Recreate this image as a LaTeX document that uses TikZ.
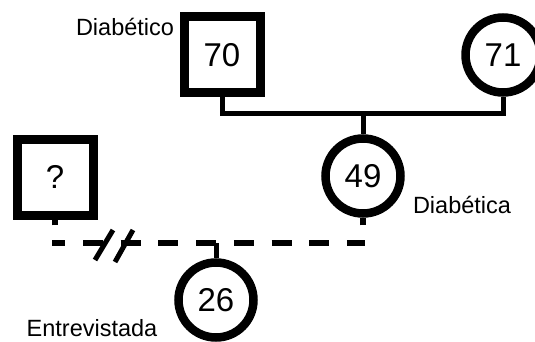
\documentclass[tikz,border=0pt]{standalone}
\usepackage{fontspec}
\setmainfont{Liberation Sans}
\usetikzlibrary{positioning}

\begin{document}
\begin{tikzpicture}[x=1pt,y=-1pt]

\tikzset{male/.style={draw, rectangle, line width=9pt, minimum size=76pt, inner sep=0pt,
                      font=\fontsize{33}{36}\selectfont},
         female/.style={draw, circle, line width=8.5pt, minimum size=75pt, inner sep=0pt,
                        font=\fontsize{33}{36}\selectfont},
         tag/.style={font=\fontsize{23.5}{26}\selectfont, inner sep=0pt},
         kin/.style={line width=5pt},
         partner/.style={line width=5.5pt, dash pattern=on 20pt off 17.7pt}}

\clip (0,0) rectangle (535,342);

\node[male]   (p70) at (222,55)  {70};
\node[female] (p71) at (503,55)  {71};
\node[female] (p49) at (363,176) {49};
\node[male]   (px)  at (55,177)  {?};
\node[female] (p26) at (216,300) {26};

\node[tag] (d70) at (125,27)  {Diabético};
\node[tag] (d49) at (462,205) {Diabética};
\node[tag] (e26) at (92,328)  {Entrevistada};

% parents and daughter
\coordinate (wed) at (363,114);
\draw[kin] (p70.south) |- (wed) -| (p71.south);
\draw[kin] (wed) -- (p49.north);

% broken union
\coordinate (ul) at (52,243);
\coordinate (ur) at (365,243);
\draw[partner, dash phase=6.7pt] (ul) -- (ur);
\draw[partner, dash phase=20pt] (px.south |- ul) -- (px.south);
\draw[partner, dash phase=20pt] (p49.south |- ur) -- (p49.south);
\coordinate (brk) at (114,245);
\draw[line width=5pt] (brk) ++(-19,15) -- ++(18,-30);
\draw[line width=5pt] (brk) ++(1,17) -- ++(18,-32);

\draw[kin] (p26.north |- ul) -- (p26.north);

\end{tikzpicture}
\end{document}
